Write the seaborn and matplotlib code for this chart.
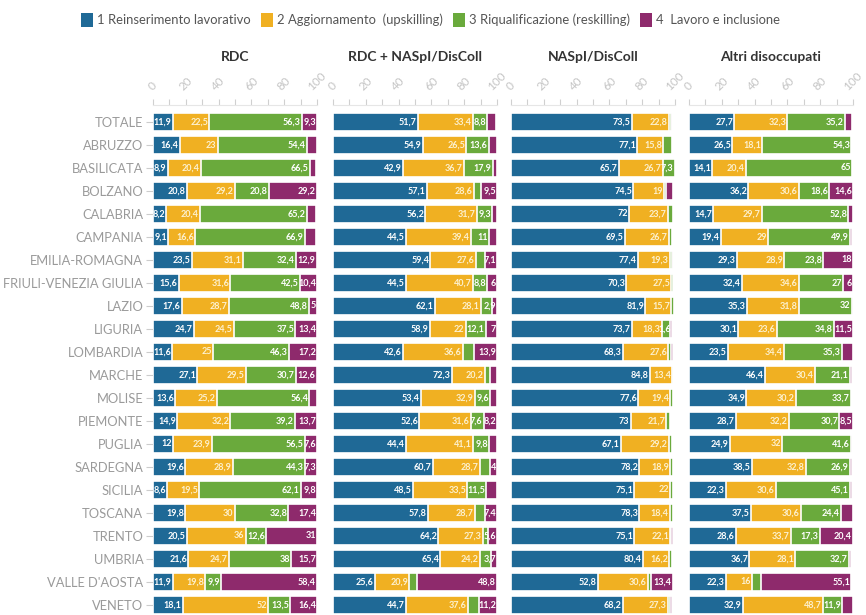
import numpy as np
import matplotlib
matplotlib.use("Agg")
import matplotlib.pyplot as plt
import seaborn as sns
from matplotlib.patches import Patch

sns.set_theme(style="white")
plt.rcParams['font.family'] = ['Lato', 'DejaVu Sans']

regions = ["TOTALE", "ABRUZZO", "BASILICATA", "BOLZANO", "CALABRIA", "CAMPANIA",
           "EMILIA-ROMAGNA", "FRIULI-VENEZIA GIULIA", "LAZIO", "LIGURIA", "LOMBARDIA",
           "MARCHE", "MOLISE", "PIEMONTE", "PUGLIA", "SARDEGNA", "SICILIA", "TOSCANA",
           "TRENTO", "UMBRIA", "VALLE D'AOSTA", "VENETO"]
series_names = ["1 Reinserimento lavorativo", "2 Aggiornamento  (upskilling)",
                "3 Riqualificazione (reskilling)", "4  Lavoro e inclusione"]
colors = ["#1f6996", "#f0b022", "#6aaa3c", "#8e2a6c"]
label_colors = ["white", "#fdf1cf", "white", "white"]
panels = ["RDC", "RDC + NASpI/DisColl", "NASpI/DisColl", "Altri disoccupati"]

# RDC
rdc_1 = [11.9, 16.4, 8.9, 20.8, 8.2, 9.1, 23.5, 15.6, 17.6, 24.7, 11.6, 27.1, 13.6, 14.9, 12, 19.6, 8.6, 19.8, 20.5, 21.6, 11.9, 18.1]
rdc_2 = [22.5, 23, 20.4, 29.2, 20.4, 16.6, 31.1, 31.6, 28.7, 24.5, 25, 29.5, 25.2, 32.2, 23.9, 28.9, 19.5, 30, 36, 24.7, 19.8, 52]
rdc_3 = [56.3, 54.4, 66.5, 20.8, 65.2, 66.9, 32.4, 42.5, 48.8, 37.5, 46.3, 30.7, 56.4, 39.2, 56.5, 44.3, 62.1, 32.8, 12.6, 38, 9.9, 13.5]
rdc_4 = [9.3, 6.0, 3.5, 29.2, 5.5, 7.0, 12.9, 10.4, 5, 13.4, 17.2, 12.6, 4.8, 13.7, 7.6, 7.3, 9.8, 17.4, 31, 15.7, 58.4, 16.4]

# RDC + NASpI/DisColl
mix_1 = [51.7, 54.9, 42.9, 57.1, 56.2, 44.5, 59.4, 44.5, 62.1, 58.9, 42.6, 72.3, 53.4, 52.6, 44.4, 60.7, 48.5, 57.8, 64.2, 65.4, 25.6, 44.7]
mix_2 = [33.4, 26.5, 36.7, 28.6, 31.7, 39.4, 27.6, 40.7, 28.1, 22, 36.6, 20.2, 32.9, 31.6, 41.1, 28.7, 33.5, 28.7, 27.3, 24.2, 20.9, 37.6]
mix_3 = [8.8, 13.6, 17.9, 4.8, 9.3, 11, 5.9, 8.8, 6.9, 12.1, 6.9, 3.0, 9.6, 7.6, 9.8, 6.6, 11.5, 6.1, 2.9, 6.7, 4.7, 6.5]
mix_4 = [5.5, 5.0, 2.5, 9.5, 2.8, 5.1, 7.1, 6, 2.9, 7, 13.9, 4.5, 4.1, 8.2, 4.7, 4, 6.5, 7.4, 5.6, 3.7, 48.8, 11.2]

# NASpI/DisColl
nas_1 = [73.5, 77.1, 65.7, 74.5, 72, 69.5, 77.4, 70.3, 81.9, 73.7, 68.3, 84.8, 77.6, 73, 67.1, 78.2, 75.1, 78.3, 75.1, 80.4, 52.8, 68.2]
nas_2 = [22.8, 15.8, 26.7, 19, 23.7, 26.7, 19.3, 27.5, 15.7, 18.3, 27.6, 13.4, 19.4, 21.7, 29.2, 18.9, 22, 18.4, 22.1, 16.2, 30.6, 27.3]
nas_3 = [1.5, 5.5, 7.3, 1.0, 3.0, 2.0, 1.3, 1.2, 1.5, 4.8, 1.5, 0.8, 1.5, 2.0, 2.0, 1.5, 1.5, 1.8, 0.5, 1.8, 1.8, 1.5]
nas_4 = [0.5, 0, 0, 4.0, 0, 0, 1.0, 0, 0, 1.6, 1.2, 0, 0, 0, 0, 0, 0, 0, 1.3, 0, 13.4, 1.0]

# Altri disoccupati
alt_1 = [27.7, 26.5, 14.1, 36.2, 14.7, 19.4, 29.3, 32.4, 35.3, 30.1, 23.5, 46.4, 34.9, 28.7, 24.9, 38.5, 22.3, 37.5, 28.6, 36.7, 22.3, 32.9]
alt_2 = [32.3, 18.1, 20.4, 30.6, 29.7, 29, 28.9, 34.6, 31.8, 23.6, 34.4, 30.4, 30.2, 32.2, 32, 32.8, 30.6, 30.6, 33.7, 28.1, 16, 48.7]
alt_3 = [35.2, 54.3, 65, 18.6, 52.8, 49.9, 23.8, 27, 32, 34.8, 35.3, 21.1, 33.7, 30.7, 41.6, 26.9, 45.1, 24.4, 17.3, 32.7, 5.5, 11.9]
alt_4 = [4.0, 0, 0, 14.6, 2.8, 1.0, 18, 6, 0.9, 11.5, 6.8, 1.5, 0, 8.5, 1.0, 1.0, 1.2, 7.5, 20.4, 1.5, 55.1, 6.5]

# segments shown without a value label
rdc_hide = {3: ["ABRUZZO", "BASILICATA", "CALABRIA", "CAMPANIA", "MOLISE"]}
mix_hide = {2: ["BOLZANO", "EMILIA-ROMAGNA", "LAZIO", "LOMBARDIA", "MARCHE", "SARDEGNA",
                "TOSCANA", "TRENTO", "UMBRIA", "VALLE D'AOSTA", "VENETO"],
            3: ["TOTALE", "ABRUZZO", "BASILICATA", "CALABRIA", "CAMPANIA", "MARCHE",
                "MOLISE", "PUGLIA", "SICILIA"]}
nas_hide = {2: [r for r in regions if r != "BASILICATA"],
            3: [r for r in regions if r not in ("LIGURIA", "VALLE D'AOSTA")]}
alt_hide = {2: ["VALLE D'AOSTA"],
            3: ["TOTALE", "CALABRIA", "CAMPANIA", "LAZIO", "LOMBARDIA", "MARCHE", "PUGLIA",
                "SARDEGNA", "SICILIA", "TOSCANA", "UMBRIA", "VENETO"]}

panel_data = [
    ([rdc_1, rdc_2, rdc_3, rdc_4], rdc_hide),
    ([mix_1, mix_2, mix_3, mix_4], mix_hide),
    ([nas_1, nas_2, nas_3, nas_4], nas_hide),
    ([alt_1, alt_2, alt_3, alt_4], alt_hide),
]

W, H = 866, 615
fig = plt.figure(figsize=(W / 100, H / 100), dpi=100)
lefts = [153, 333, 511, 689]
pw = 164
top_px, bot_px = 105, 615
row0, step = 122, 23

def fmt(v):
    s = f"{v:.1f}".replace(".", ",")
    return s[:-2] if s.endswith(",0") else s

for k, (vals, hide) in enumerate(panel_data):
    ax = fig.add_axes([lefts[k] / W, 1 - bot_px / H, pw / W, (bot_px - top_px) / H])
    cum = np.cumsum(np.array(vals, dtype=float), axis=0)
    for j in range(3, -1, -1):
        sns.barplot(x=cum[j], y=regions, orient='h', color=colors[j], saturation=1,
                    width=0.74, edgecolor='white', linewidth=1.2, ax=ax)
    for j in range(4):
        hidden = hide.get(j, [])
        for i, r in enumerate(regions):
            v = vals[j][i]
            if v <= 0 or r in hidden:
                continue
            ax.text(cum[j][i] - 0.7, i, fmt(v), ha='right', va='center',
                    fontsize=6.5, color=label_colors[j], fontweight='bold')
    ax.set_xlim(0, 100)
    ax.set_ylim((bot_px - row0) / step, (top_px - row0) / step)
    ax.xaxis.tick_top()
    ax.set_xticks(range(0, 101, 10))
    ax.set_xticklabels([str(t) if t % 20 == 0 else "" for t in range(0, 101, 10)],
                       rotation=45, ha='center', va='bottom')
    ax.tick_params(axis='x', colors='#d0d0d0', labelcolor='#c4c4c4', labelsize=8.5,
                   length=4, width=0.8, pad=5, top=True, bottom=False)
    ax.set_xlabel("")
    ax.set_ylabel("")
    for s in ['left', 'right', 'bottom']:
        ax.spines[s].set_visible(False)
    ax.spines['top'].set_color('#e6e6e6')
    ax.spines['top'].set_linewidth(0.8)
    if k == 0:
        ax.tick_params(axis='y', left=True, length=5, width=0.8, color='#cccccc',
                       labelcolor='#9a9a9a', labelsize=9.3, pad=2)
    else:
        ax.tick_params(axis='y', left=False, labelleft=False)
    fig.text((lefts[k] + pw / 2) / W, 1 - 57 / H, panels[k], ha='center', va='center',
             fontsize=10, fontweight='bold', color='#333333')

handles = [Patch(facecolor=c, edgecolor='none') for c in colors]
fig.legend(handles, series_names, loc='center', bbox_to_anchor=(0.497, 1 - 20 / H), ncol=4,
           frameon=False, fontsize=9.4, handlelength=0.9, handleheight=1.3,
           handletextpad=0.3, columnspacing=0.8, labelcolor='#555555')

fig.savefig("out.png", dpi=100)
